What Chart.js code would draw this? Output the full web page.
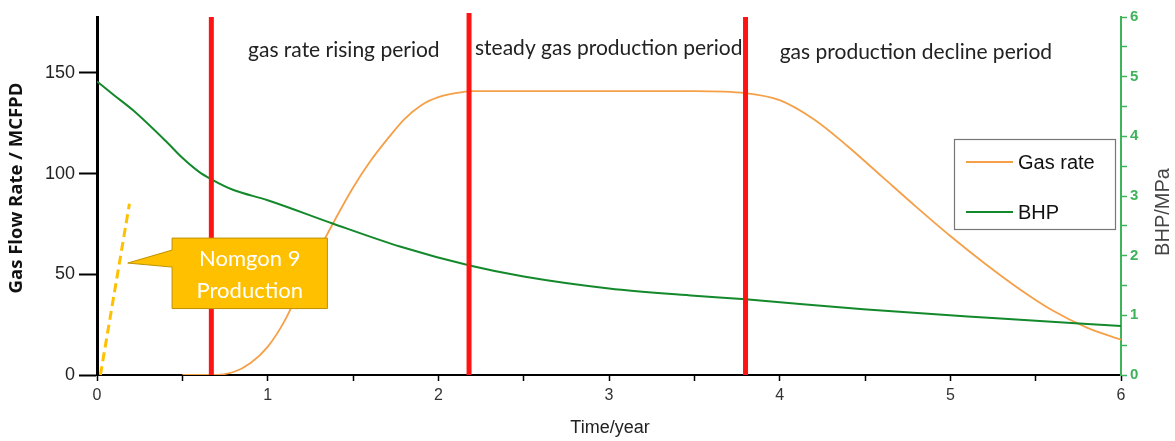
<!DOCTYPE html>
<html><head><meta charset="utf-8">
<script src="https://cdn.jsdelivr.net/npm/chart.js@4.4.0/dist/chart.umd.min.js"></script>
<style>html,body{margin:0;padding:0;background:#fff}#wrap{width:1175px;height:441px}</style>
</head><body><div id="wrap"><canvas id="c" width="1175" height="441"></canvas></div>
<script>
// ---- data ----
const gasTime = [0.5, 0.67, 0.8, 0.9, 1.0, 1.1, 1.2, 1.3, 1.4, 1.5, 1.6, 1.7, 1.8, 1.9, 2.0, 2.1, 2.2, 2.5, 3.0, 3.5, 3.8, 4.0, 4.2, 4.4, 4.6, 4.8, 5.0, 5.2, 5.4, 5.6, 5.8, 6.0];
const gasRate = [0, 0, 1.5, 6, 14, 27, 45, 62, 78, 93, 106, 117, 127, 134, 138, 140, 141, 141, 141, 141, 140, 136.5, 127, 113.5, 98.5, 83.5, 69, 55.5, 43, 32, 23.5, 17.5];
const bhpTime = [0, 0.1, 0.21, 0.41, 0.5, 0.6, 0.67, 0.8, 1.0, 1.38, 1.78, 2.19, 2.5, 3.0, 3.5, 3.8, 4.49, 5.27, 6.0];
const bhpValues = [4.92, 4.69, 4.44, 3.90, 3.64, 3.40, 3.28, 3.10, 2.93, 2.54, 2.15, 1.83, 1.65, 1.45, 1.33, 1.27, 1.10, 0.95, 0.82];
const periodTimes = [0.67, 2.18, 3.80];
const periodLabels = ['gas rate rising period', 'steady gas production period', 'gas production decline period'];
const periodLabelTimes = [0.885, 2.215, 4.0];
const nomgonTime = [0.02, 0.19];
const nomgonRate = [0, 85];
const leftTicks = [0, 50, 100, 150];
const xTickStep = 0.5;
const rightTickStep = 0.5;
const legendLabels = ['Gas rate', 'BHP'];
const calloutLines = ['Nomgon 9', 'Production'];

const ORANGE = '#F5A048', GREEN = '#13892C', AXISGREEN = '#3DB35A', RED = '#FF1414', GOLD = '#FFC000';
const LEFT_MAX = 177.8, RIGHT_MAX = 6;

const pts = (xs, ys) => xs.map((x, i) => ({x, y: ys[i]}));

const datasets = [];
periodTimes.forEach((t, i) => {
  datasets.push({
    label: 'period' + i, data: [{x: t, y: 0}, {x: t, y: i === 1 ? LEFT_MAX + 2 : LEFT_MAX}],
    borderColor: RED, borderWidth: 5, pointRadius: 0, yAxisID: 'y', order: 0, clip: false, borderCapStyle: 'butt'
  });
});
datasets.push({label: legendLabels[0], data: pts(gasTime, gasRate), borderColor: ORANGE, borderWidth: 1.8,
  pointRadius: 0, yAxisID: 'y', cubicInterpolationMode: 'monotone', order: 2});
datasets.push({label: legendLabels[1], data: pts(bhpTime, bhpValues), borderColor: GREEN, borderWidth: 2,
  pointRadius: 0, yAxisID: 'y2', cubicInterpolationMode: 'monotone', order: 1});
datasets.push({label: 'Nomgon 9', data: pts(nomgonTime, nomgonRate), borderColor: GOLD, borderWidth: 3,
  borderDash: [9, 5], pointRadius: 0, yAxisID: 'y', order: 1});

const decor = {
  id: 'decor',
  afterDatasetsDraw(chart) {
    const ctx = chart.ctx, x = chart.scales.x, y = chart.scales.y;
    ctx.save();
    // period labels
    ctx.fillStyle = '#222';
    ctx.font = '21px Lato, "Open Sans", sans-serif';
    ctx.textBaseline = 'middle';
    ctx.textAlign = 'left';
    const ly = [50, 48, 52];
    periodLabels.forEach((s, i) => ctx.fillText(s, x.getPixelForValue(periodLabelTimes[i]), ly[i]));
    // callout
    const bx1 = x.getPixelForValue(0.44), bx2 = x.getPixelForValue(1.35);
    const by1 = y.getPixelForValue(68), by2 = y.getPixelForValue(33);
    const tipX = x.getPixelForValue(0.18), tipY = y.getPixelForValue(55.6);
    ctx.beginPath();
    ctx.moveTo(bx1, by1);
    ctx.lineTo(bx2, by1);
    ctx.lineTo(bx2, by2);
    ctx.lineTo(bx1, by2);
    ctx.lineTo(bx1, by1 + 29);
    ctx.lineTo(tipX, tipY);
    ctx.lineTo(bx1, by1 + 12);
    ctx.closePath();
    ctx.fillStyle = GOLD; ctx.fill();
    ctx.strokeStyle = '#BF9000'; ctx.lineWidth = 1; ctx.stroke();
    ctx.fillStyle = '#fff';
    ctx.font = '22px Lato, "Open Sans", sans-serif';
    ctx.textAlign = 'center';
    const cx = (bx1 + bx2) / 2;
    ctx.fillText(calloutLines[0], cx, by1 + 21);
    ctx.fillText(calloutLines[1], cx, by1 + 53);
    ctx.restore();
  },
  afterDraw(chart) {
    const ctx = chart.ctx;
    ctx.save();
    // axis titles
    ctx.fillStyle = '#222';
    ctx.textAlign = 'center'; ctx.textBaseline = 'middle';
    ctx.font = '18px "Liberation Sans Narrow", "Liberation Sans", Arial, sans-serif';
    ctx.fillText('Time/year', 610, 428);
    ctx.save();
    ctx.translate(17, 188); ctx.rotate(-Math.PI / 2);
    ctx.font = 'bold 18.5px "Open Sans", sans-serif';
    ctx.fillStyle = '#111';
    ctx.fillText('Gas Flow Rate / MCFPD', 0, 0);
    ctx.restore();
    ctx.save();
    ctx.translate(1163, 212); ctx.rotate(-Math.PI / 2);
    ctx.font = '20px "Liberation Sans", Arial, sans-serif';
    ctx.fillStyle = '#444';
    ctx.fillText('BHP/MPa', 0, 0);
    ctx.restore();
    // legend
    const L = 954, T = 139, R = 1115, B = 229;
    ctx.fillStyle = '#fff'; ctx.fillRect(L, T, R - L, B - T);
    ctx.strokeStyle = '#777'; ctx.lineWidth = 1.2; ctx.strokeRect(L + 0.5, T + 0.5, R - L, B - T);
    const cols = [ORANGE, GREEN], rows = [162, 212];
    ctx.font = '20px "Liberation Sans", Arial, sans-serif';
    ctx.textAlign = 'left';
    legendLabels.forEach((s, i) => {
      ctx.strokeStyle = cols[i]; ctx.lineWidth = 2;
      ctx.beginPath(); ctx.moveTo(966, rows[i]); ctx.lineTo(1013, rows[i]); ctx.stroke();
      ctx.fillStyle = '#111';
      ctx.fillText(s, 1018, rows[i] + 1);
    });
    ctx.restore();
  }
};

new Chart(document.getElementById('c'), {
  type: 'line',
  data: {datasets},
  plugins: [decor],
  options: {
    responsive: false, animation: false, devicePixelRatio: 1,
    layout: {padding: {top: 17, left: 0, right: 0, bottom: 0}},
    plugins: {legend: {display: false}, tooltip: {enabled: false}},
    elements: {line: {tension: 0}},
    scales: {
      x: {
        type: 'linear', position: 'bottom', min: 0, max: 6,
        afterFit: s => { s.height = 66; },
        ticks: {stepSize: xTickStep, autoSkip: false, maxRotation: 0, padding: 5,
          callback: v => Number.isInteger(v) ? String(v) : '',
          color: '#333', font: {family: '"Liberation Sans Narrow", "Liberation Sans", Arial', size: 16}},
        grid: {drawOnChartArea: false, drawTicks: true, tickLength: 6, tickColor: '#000', tickWidth: 1.5},
        border: {display: true, color: '#000', width: 2}
      },
      y: {
        type: 'linear', position: 'left', min: 0, max: LEFT_MAX,
        afterBuildTicks: s => { s.ticks = leftTicks.map(v => ({value: v})); },
        afterFit: s => { s.width = 97; },
        ticks: {padding: 4, color: '#222', font: {family: '"Liberation Sans", Arial', size: 18}},
        grid: {drawOnChartArea: false, drawTicks: true, tickLength: 18, tickColor: '#000', tickWidth: 2},
        border: {display: true, color: '#000', width: 3}
      },
      y2: {
        type: 'linear', position: 'right', min: 0, max: RIGHT_MAX,
        afterFit: s => { s.width = 54; },
        ticks: {stepSize: rightTickStep, autoSkip: false, padding: 3,
          callback: v => Number.isInteger(v) ? String(v) : '',
          color: AXISGREEN, font: {family: '"Liberation Sans", Arial', size: 15, weight: 'bold'}},
        grid: {drawOnChartArea: false, drawTicks: true, tickLength: 6, tickColor: AXISGREEN, tickWidth: 1.5},
        border: {display: true, color: AXISGREEN, width: 2}
      }
    }
  }
});
</script></body></html>
